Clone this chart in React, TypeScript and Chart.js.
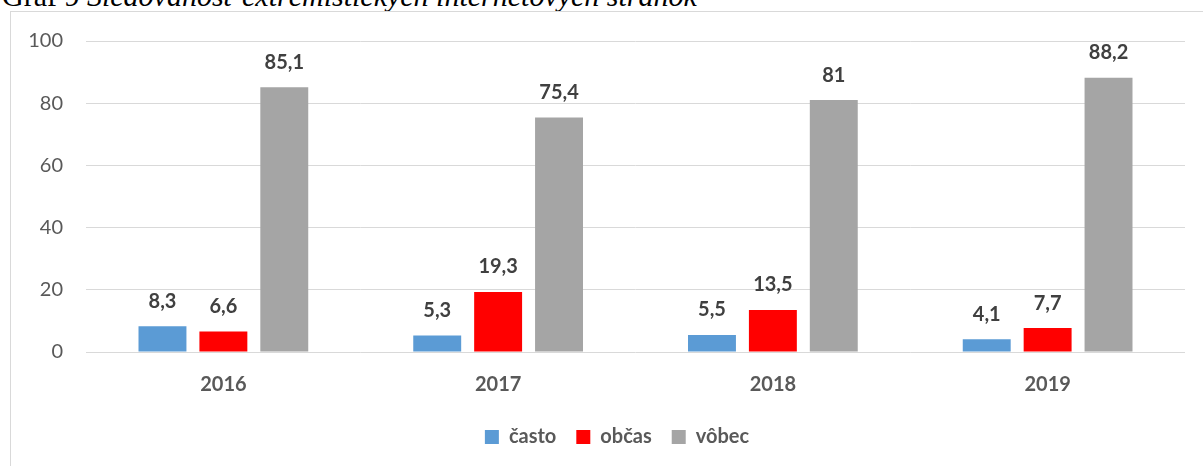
import React, { useEffect, useRef } from "react";
import { Chart, registerables } from "chart.js";

Chart.register(...registerables);

const categories = ["2016", "2017", "2018", "2019"];
const seriesNames = ["často", "občas", "vôbec"];
const castoValues = [8.3, 5.3, 5.5, 4.1];
const obcasValues = [6.6, 19.3, 13.5, 7.7];
const vobecValues = [85.1, 75.4, 81, 88.2];
const seriesColors = ["#5B9BD5", "#FF0000", "#A5A5A5"];
const yTicks = [0, 20, 40, 60, 80, 100];
const titleLead = "Graf 9 ";
const titleRest = "Sledovanosť extrémistických internetových stránok";

const FONT = "Lato, 'Noto Sans', sans-serif";

const dataLabels = {
  id: "dataLabels",
  afterDatasetsDraw(chart: any) {
    const ctx = chart.ctx;
    ctx.save();
    ctx.font = `bold 20px ${FONT}`;
    ctx.fillStyle = "#404040";
    ctx.textAlign = "center";
    ctx.textBaseline = "middle";
    chart.data.datasets.forEach((ds: any, i: number) => {
      const meta = chart.getDatasetMeta(i);
      meta.data.forEach((bar: any, j: number) => {
        const v = ds.data[j];
        ctx.fillText(String(v).replace(".", ","), bar.x, bar.y - 25);
      });
    });
    ctx.restore();
  },
};

export default function App() {
  const ref = useRef<HTMLCanvasElement | null>(null);

  useEffect(() => {
    if (!ref.current) return;
    const values = [castoValues, obcasValues, vobecValues];
    const chart = new Chart(ref.current, {
      type: "bar",
      data: {
        labels: categories,
        datasets: seriesNames.map((name, i) => ({
          label: name,
          data: values[i],
          backgroundColor: seriesColors[i],
          borderWidth: 0,
          categoryPercentage: 0.665,
          barPercentage: 0.787,
        })),
      },
      options: {
        responsive: false,
        animation: false,
        devicePixelRatio: 1,
        layout: { padding: { left: 0, top: 30, right: 0, bottom: 24 } },
        plugins: {
          title: { display: false },
          tooltip: { enabled: false },
          legend: {
            position: "bottom",
            labels: {
              boxWidth: 14,
              boxHeight: 14,
              padding: 20,
              color: "#595959",
              font: { family: FONT, size: 20, weight: "bold" },
            },
          },
        },
        scales: {
          x: {
            grid: { display: false, drawTicks: false },
            border: { display: false },
            ticks: {
              padding: 21,
              color: "#595959",
              font: { family: FONT, size: 20, weight: "bold" },
            },
            afterFit: (s: any) => {
              s.height = 55;
            },
          },
          y: {
            min: yTicks[0],
            max: yTicks[yTicks.length - 1],
            afterBuildTicks: (s: any) => {
              s.ticks = yTicks.map((v) => ({ value: v }));
            },
            grid: {
              color: "#D9D9D9",
              lineWidth: 1,
              drawTicks: true,
              tickLength: 23,
              tickColor: "rgba(0,0,0,0)",
            },
            border: { display: false },
            ticks: {
              padding: 0,
              color: "#595959",
              font: { family: FONT, size: 20 },
            },
            afterFit: (s: any) => {
              s.width = 76;
            },
          },
          y2: {
            position: "right",
            display: true,
            grid: { display: false, drawTicks: false },
            border: { display: false },
            ticks: { display: false },
            afterFit: (s: any) => {
              s.width = 39;
            },
          },
        },
      },
      plugins: [dataLabels],
    } as any);
    return () => chart.destroy();
  }, []);

  return (
    <div
      style={{
        position: "absolute",
        left: 0,
        top: 0,
        width: 1203,
        height: 466,
        overflow: "hidden",
        background: "#ffffff",
      }}
    >
      <div
        style={{
          position: "absolute",
          left: 2,
          top: -19,
          whiteSpace: "nowrap",
          fontFamily: "'Liberation Serif', 'Times New Roman', serif",
          fontSize: 30,
          lineHeight: "30px",
          color: "#000",
        }}
      >
        <span>{titleLead}</span>
        <span style={{ fontStyle: "italic" }}>{titleRest}</span>
      </div>
      <div
        style={{
          position: "absolute",
          left: 10,
          top: 11,
          width: 1214,
          height: 470,
          boxSizing: "border-box",
          border: "1px solid #D9D9D9",
          background: "#ffffff",
        }}
      />
      <canvas
        ref={ref}
        width={1214}
        height={470}
        style={{ position: "absolute", left: 10, top: 11, width: 1214, height: 470, display: "block" }}
      />
    </div>
  );
}
